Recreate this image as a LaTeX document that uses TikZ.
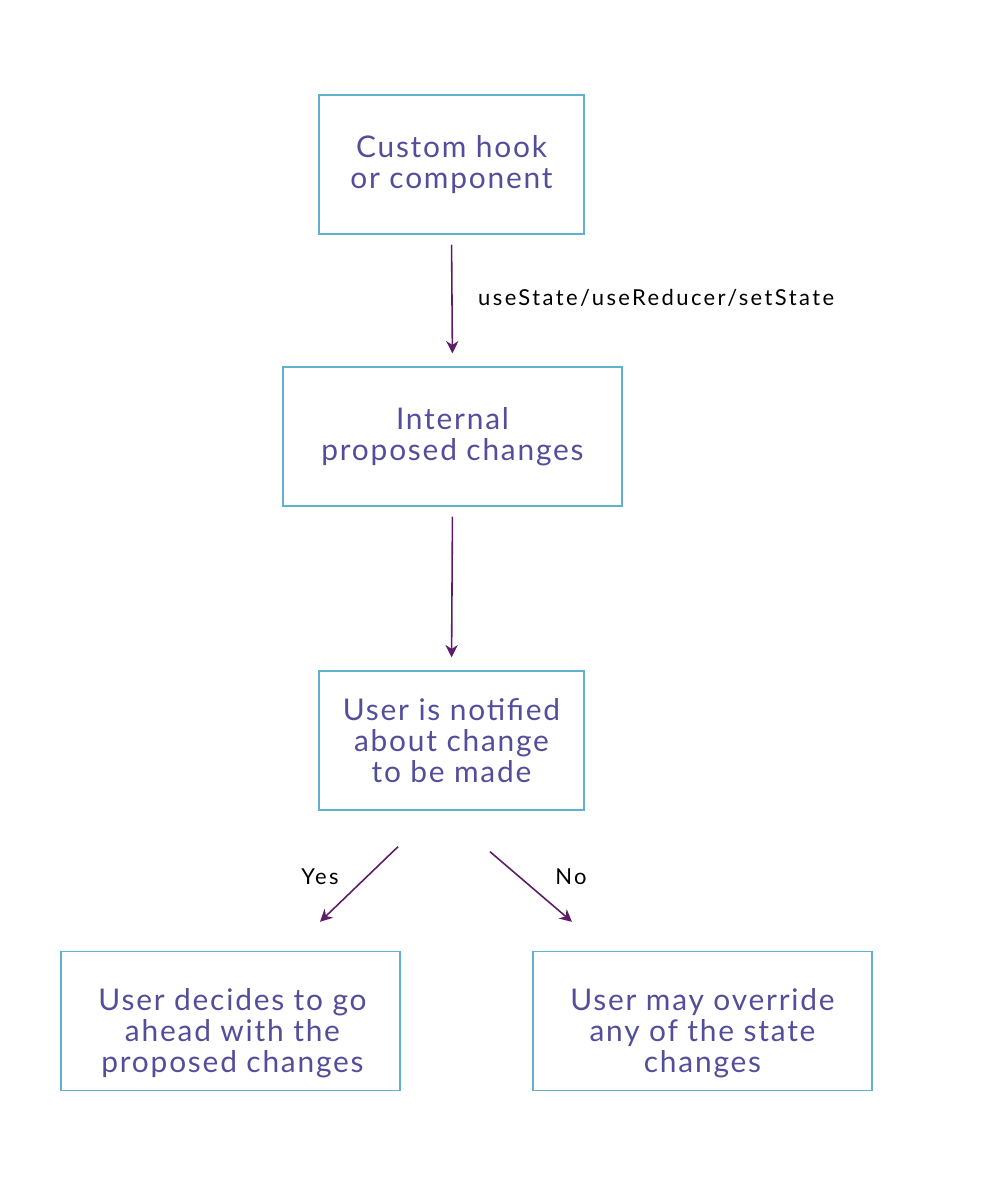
\documentclass[tikz,border=0pt]{standalone}
\usepackage{fontspec}
\setmainfont{Lato}
\newfontfamily\boxfont[LetterSpace=6]{Lato}
\newfontfamily\lblfont[LetterSpace=11]{Lato}
\usetikzlibrary{calc,arrows.meta}
\definecolor{boxline}{RGB}{95,178,205}
\definecolor{boxtext}{RGB}{84,78,154}
\definecolor{arrline}{RGB}{92,28,104}
\tikzset{
  stepbox/.style={draw=boxline,line width=0.8pt,minimum height=139*0.02cm,text=boxtext,align=center,font=\boxfont\fontsize{17}{17.5}\selectfont},
  boxtxt/.style={text=boxtext,align=center,font=\boxfont\fontsize{17}{17.5}\selectfont},
  arr/.style={draw=arrline,line width=0.9pt,-{Stealth[length=7pt,width=7pt]}},
  lbl/.style={font=\lblfont\fontsize{12.5}{14}\selectfont,text=black}
}
\begin{document}
\begin{tikzpicture}[x=0.02cm,y=-0.02cm]
				\useasboundingbox (0,0) rectangle (984,1194);
				\node[stepbox,minimum width=265*0.02cm] (hook) at (451.5,164.5) {Custom hook\\or component};
				\node[stepbox,minimum width=339*0.02cm] (internal) at (452.5,436.5) {Internal\\proposed changes};
				\node[stepbox,minimum width=265*0.02cm] (notify) at (451.5,740.5) {User is notified\\about change\\to be made};
				\node[stepbox,minimum width=339*0.02cm] (yes) at (230.5,1021) {};
				\node[stepbox,minimum width=339*0.02cm] (no) at (702.5,1021) {};
				\node[boxtxt] (yestext) at ($(yes.center)+(2,12)$) {User decides to go\\ahead with the\\proposed changes};
				\node[boxtxt] (notext) at ($(no.center)+(0,12)$) {User may override\\any of the state\\changes};
				\draw[arr,shorten <=10*0.02cm,shorten >=13*0.02cm] (hook.south) to (internal.north);
				\draw[arr,shorten <=10*0.02cm,shorten >=13*0.02cm] (internal.south) to (notify.north);
				\draw[arr] ($(notify.south)+(-53.5,36)$) to ($(yes.north)+(89.5,-29)$);
				\draw[arr] ($(notify.south)+(38.5,41)$) to ($(no.north)+(-130.5,-29)$);
				\node[lbl,anchor=west] (hooklbl) at (472,298) {useState/useReducer/setState};
				\node[lbl] (yeslbl) at (320,877) {Yes};
				\node[lbl] (nolbl) at (571,877) {No};
			\end{tikzpicture}
\end{document}
